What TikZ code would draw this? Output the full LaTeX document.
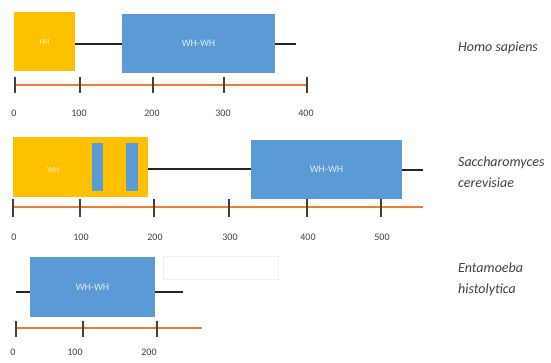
\documentclass[tikz,border=0pt]{standalone}
\usepackage{fontspec}
\setmainfont{Carlito}
\definecolor{hhyellow}{HTML}{FFC000}
\definecolor{whblue}{HTML}{5B9BD5}
\definecolor{axorange}{HTML}{ED7D31}
\definecolor{tickgray}{HTML}{404040}
\definecolor{bardark}{HTML}{262626}
\definecolor{txtgray}{HTML}{404040}
\tikzset{
  boxbase/.style={rectangle, inner sep=0pt, outer sep=0pt, anchor=north west, draw=none},
  ybox/.style={boxbase, fill=hhyellow, text=white!75!hhyellow, font=\fontsize{8}{9}\selectfont},
  bbox/.style={boxbase, fill=whblue, text=white!80!whblue, font=\fontsize{10}{11}\selectfont},
  bar/.style={draw=bardark, line width=2pt},
  axisline/.style={draw=axorange, line width=2pt},
  tickmark/.style={draw=tickgray, line width=1.6pt},
  ticklabel/.style={inner sep=0pt, text=txtgray, font=\fontsize{10}{11}\selectfont},
  species/.style={inner sep=0pt, anchor=west, align=left, text=txtgray, font=\fontsize{14}{21}\selectfont\itshape},
}
\begin{document}
\begin{tikzpicture}[x=1pt, y=-1pt]
\path[use as bounding box, fill=white] (0,0) rectangle (551,363);

% ---------- Panel 1: Homo sapiens ----------
\node[ybox, minimum width=61pt, minimum height=59pt] (hy1) at (14,12) {HH};
\node[bbox, minimum width=153pt, minimum height=59pt] (hb1) at (122,14) {WH-WH};
\coordinate (t1) at (296,44);
\draw[bar] (hb1.west |- t1) -- (hy1.east |- t1);
\draw[bar] (hb1.east |- t1) -- (t1);
\coordinate (a1s) at (15,85);
\coordinate (a1e) at (307,85);
\draw[axisline] (a1s) -- (a1e);
\foreach \xx/\lab in {15/0, 80/100, 153/200, 224/300, 307/400}{
  \draw[tickmark] (\xx,77) -- (\xx,93);
  \node[ticklabel] at (\xx-1,113) {\lab};
}
\node[species] (sp1) at (458,48) {Homo sapiens};

% ---------- Panel 2: Saccharomyces cerevisiae ----------
\node[ybox, minimum width=135pt, minimum height=60pt] (hy2) at (13,137) {};
\node[ybox] at (47,167) {WH};
\node[bbox, minimum width=11pt, minimum height=48pt] (sb1) at (92,143) {};
\node[bbox, minimum width=12pt, minimum height=48pt] (sb2) at (126,143) {};
\node[bbox, minimum width=151pt, minimum height=59pt] (hb2) at (251,140) {WH-WH};
\coordinate (t2) at (423,170);
\draw[bar] (hy2.east |- 0,169) -- (hb2.west |- 0,169);
\draw[bar] (hb2.east |- t2) -- (t2);
\coordinate (a2s) at (13,207);
\coordinate (a2e) at (423,207);
\draw[axisline] (a2s) -- (a2e);
\foreach \xx/\lab in {13/0, 80/100, 154/200, 229/300, 307/400, 381/500}{
  \draw[tickmark] (\xx,199) -- (\xx,217);
  \node[ticklabel] at (\xx+1,237) {\lab};
}
\node[species] (sp2) at (458,172) {Saccharomyces\\cerevisiae};

% ---------- Panel 3: Entamoeba histolytica ----------
\node[bbox, minimum width=125pt, minimum height=60pt] (hb3) at (30,257) {WH-WH};
\coordinate (l3) at (16,292);
\coordinate (r3) at (183,292);
\draw[bar] (l3) -- (hb3.west |- l3);
\draw[bar] (hb3.east |- r3) -- (r3);
\node[boxbase, draw=black!6, line width=0.8pt, minimum width=115pt, minimum height=23pt] (fr) at (163,256) {};
\coordinate (a3s) at (16,328);
\coordinate (a3e) at (202,328);
\draw[axisline] (a3s) -- (a3e);
\foreach \xx/\lab in {16/0, 83/100, 157/200}{
  \draw[tickmark] (\xx,321) -- (\xx,337);
}
\node[ticklabel] at (13,352) {0};
\node[ticklabel] at (75,352) {100};
\node[ticklabel] at (149,352) {200};
\node[species] (sp3) at (458,279) {Entamoeba\\histolytica};
\end{tikzpicture}
\end{document}
